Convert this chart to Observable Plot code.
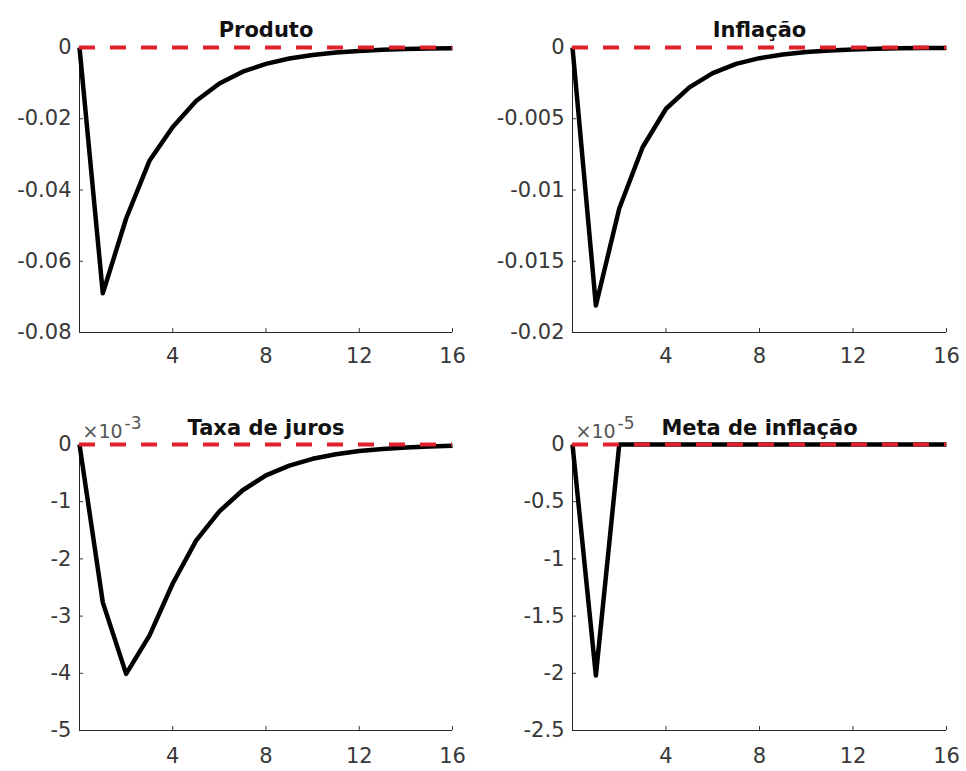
<!DOCTYPE html>
<html>
<head>
<meta charset="utf-8">
<script src="https://cdn.jsdelivr.net/npm/d3@7"></script>
<script src="https://cdn.jsdelivr.net/npm/@observablehq/plot@0.6"></script>
<style>
  html, body { margin: 0; padding: 0; background: #ffffff; }
  #chart { position: relative; width: 966px; height: 771px; background: #ffffff; }
  #chart svg { position: absolute; }
</style>
</head>
<body>
<div id="chart"></div>
<script>
// ---- Data ----
const periods = [0, 1, 2, 3, 4, 5, 6, 7, 8, 9, 10, 11, 12, 13, 14, 15, 16];
const xTicks = [4, 8, 12, 16];

const titles = ["Produto", "Inflação", "Taxa de juros", "Meta de inflação"];

// Produto
const produto = [0, -0.069, -0.048, -0.0318, -0.0223, -0.0150, -0.0101, -0.0068, -0.0046, -0.0031, -0.0021, -0.0014, -0.00095, -0.00064, -0.00043, -0.00029, -0.0002];
const produtoTicks = [0, -0.02, -0.04, -0.06, -0.08];

// Inflação
const inflacao = [0, -0.0181, -0.0113, -0.0070, -0.0043, -0.0028, -0.0018, -0.00115, -0.00075, -0.00049, -0.00032, -0.00021, -0.00014, -0.00009, -0.00006, -0.00004, -0.00003];
const inflacaoTicks = [0, -0.005, -0.01, -0.015, -0.02];

// Taxa de juros (in units of 10^-3)
const juros = [0, -2.76, -4.01, -3.34, -2.43, -1.68, -1.17, -0.80, -0.54, -0.37, -0.25, -0.17, -0.115, -0.078, -0.053, -0.036, -0.024];
const jurosTicks = [0, -1, -2, -3, -4, -5];
const jurosExp = "-3";

// Meta de inflação (in units of 10^-5)
const meta = [0, -2.02, 0, 0, 0, 0, 0, 0, 0, 0, 0, 0, 0, 0, 0, 0, 0];
const metaTicks = [0, -0.5, -1, -1.5, -2, -2.5];
const metaExp = "-5";

// ---- Drawing ----
const RED = "#e0202a";
const AXIS = "#262626";
const FONT = "'DejaVu Sans', 'Liberation Sans', Arial, sans-serif";

function panel({title, values, ticks, exp, left, top, width, height, ml, mr, mt, mb, xPad, titleDy}) {
  const data = values.map((v, i) => ({t: periods[i], v}));
  const yMin = d3.min(ticks);
  const marks = [
    Plot.ruleX([0], {stroke: AXIS, strokeWidth: 1}),
    Plot.ruleY([yMin], {stroke: AXIS, strokeWidth: 1}),
    Plot.line(data, {x: "t", y: "v", stroke: "#000", strokeWidth: 4.5, strokeLinejoin: "round", strokeLinecap: "butt"}),
    Plot.ruleY([0], {stroke: RED, strokeWidth: 4, strokeDasharray: "16,15"}),
    Plot.text([title], {frameAnchor: "top", dy: titleDy, lineAnchor: "bottom", fontWeight: "bold", fontSize: 21, fill: "#111"})
  ];
  if (exp) {
    marks.push(Plot.text(["×10"], {frameAnchor: "top-left", dx: 3, dy: -7, textAnchor: "start", lineAnchor: "bottom", fontSize: 19, fill: "#555"}));
    marks.push(Plot.text([exp], {frameAnchor: "top-left", dx: 45, dy: -16, textAnchor: "start", lineAnchor: "bottom", fontSize: 17, fill: "#555"}));
  }
  const svg = Plot.plot({
    width, height,
    marginLeft: ml, marginRight: mr, marginTop: mt, marginBottom: mb,
    style: {fontFamily: FONT, fontSize: "21px", color: "#383838", background: "transparent", overflow: "visible"},
    x: {domain: [0, 16], ticks: xTicks, tickFormat: d => String(d), tickSize: -4, tickPadding: xPad, label: null},
    y: {domain: [yMin, 0], ticks, tickFormat: d => String(d), tickSize: -4, tickPadding: 12, label: null},
    marks
  });
  svg.style.left = left + "px";
  svg.style.top = top + "px";
  return svg;
}

const chart = document.getElementById("chart");
chart.appendChild(panel({title: titles[0], values: produto, ticks: produtoTicks, exp: null,
  left: 0, top: 0, width: 483, height: 385, ml: 79, mr: 31, mt: 47, mb: 53, xPad: 20, titleDy: -11}));
chart.appendChild(panel({title: titles[1], values: inflacao, ticks: inflacaoTicks, exp: null,
  left: 483, top: 0, width: 483, height: 385, ml: 89, mr: 20, mt: 47, mb: 53, xPad: 20, titleDy: -11}));
chart.appendChild(panel({title: titles[2], values: juros, ticks: jurosTicks, exp: jurosExp,
  left: 0, top: 385, width: 483, height: 386, ml: 79, mr: 31, mt: 59, mb: 41, xPad: 22, titleDy: -10}));
chart.appendChild(panel({title: titles[3], values: meta, ticks: metaTicks, exp: metaExp,
  left: 483, top: 385, width: 483, height: 386, ml: 89, mr: 20, mt: 59, mb: 41, xPad: 22, titleDy: -10}));
</script>
</body>
</html>
